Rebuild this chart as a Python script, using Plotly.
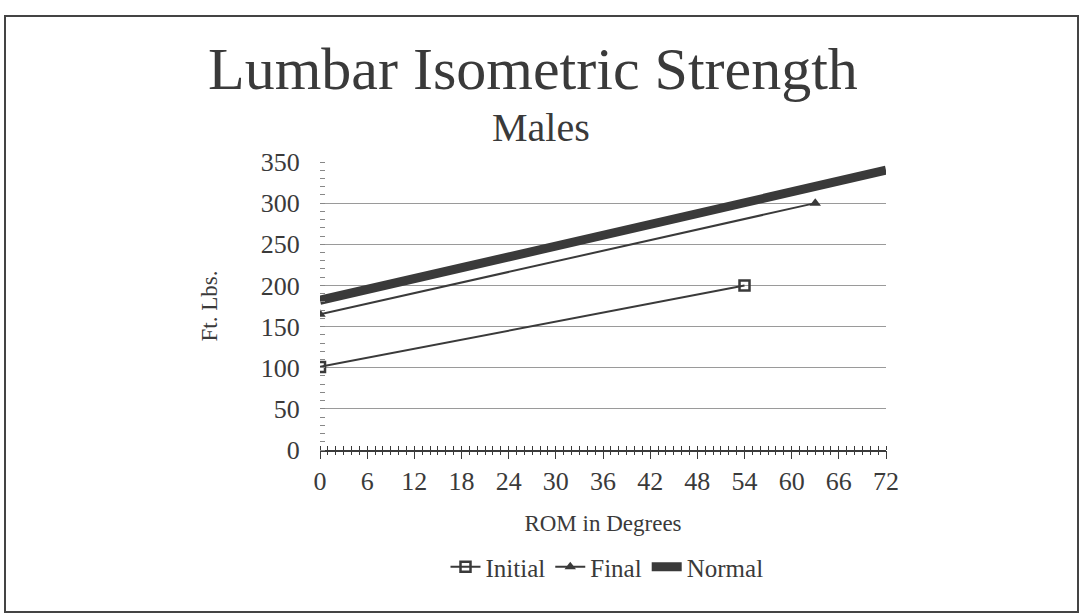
import plotly.graph_objects as go

initial_x = [0, 54]
initial_y = [101, 200]
final_x = [0, 63]
final_y = [165, 300]
normal_x = [0, 72]
normal_y = [182, 340]

x_ticks = list(range(0, 73, 6))
x_minor = list(range(0, 73, 1))
y_ticks = list(range(0, 351, 50))

C = "#3a3a3a"
FONT = "Liberation Serif"

fig = go.Figure()
fig.add_trace(go.Scatter(x=initial_x, y=initial_y, name="Initial", mode="lines+markers",
                         line=dict(color=C, width=2),
                         marker=dict(symbol="square-open", size=10, color=C, line=dict(width=2.5))))
fig.add_trace(go.Scatter(x=final_x, y=final_y, name="Final", mode="lines+markers",
                         line=dict(color=C, width=2),
                         marker=dict(symbol="triangle-up", size=10, color=C)))
fig.add_trace(go.Scatter(x=normal_x, y=normal_y, name="Normal", mode="lines",
                         line=dict(color=C, width=9)))
# invisible trace to activate the second x axis (minor crossing ticks)
fig.add_trace(go.Scatter(x=[0], y=[0], xaxis="x2", mode="markers", marker=dict(opacity=0),
                         showlegend=False, hoverinfo="skip"))

L, R, T, B = 320, 196, 162, 165
W, H = 1082, 615
pw, ph = W - L - R, H - T - B

def px(x):
    return (x - L) / pw

def py(y):
    return (H - B - y) / ph

TF = 26
fig.update_layout(
    width=W, height=H,
    margin=dict(l=L, r=R, t=T, b=B),
    paper_bgcolor="white", plot_bgcolor="white",
    font=dict(family=FONT, color=C, size=TF),
    showlegend=True,
    legend=dict(orientation="h", x=px(607), y=py(567), xanchor="center", yanchor="middle",
                font=dict(size=25, family=FONT, color=C), itemwidth=30,
                bgcolor="rgba(0,0,0,0)"),
    xaxis=dict(range=[0, 72], tickvals=x_ticks, showgrid=False, zeroline=False,
               showline=True, linecolor=C, linewidth=1.5,
               ticks="outside", ticklen=7, tickcolor=C, tickwidth=1.2,
               minor=dict(dtick=1, ticks="inside", ticklen=4, tickcolor=C),
               tickfont=dict(size=TF, family=FONT, color=C),
               title=dict(text="ROM in Degrees", font=dict(size=23, family=FONT, color=C), standoff=20)),
    xaxis2=dict(range=[0, 72], overlaying="x", anchor="y", side="bottom", tickvals=x_minor,
                showticklabels=False, showgrid=False, zeroline=False, showline=False,
                ticks="outside", ticklen=4, tickcolor=C, tickwidth=1),
    yaxis=dict(range=[0, 350], tickvals=y_ticks, showgrid=True, gridcolor="#9a9a9a", gridwidth=1,
               zeroline=False, showline=False,
               ticks="outside", ticklen=14, tickcolor="rgba(0,0,0,0)",
               minor=dict(dtick=10, ticks="inside", ticklen=5, tickcolor="#888", showgrid=False),
               tickfont=dict(size=TF, family=FONT, color=C),
               title=dict(text="Ft. Lbs.", font=dict(size=23, family=FONT, color=C), standoff=36)),
    annotations=[
        dict(text="Lumbar Isometric Strength", x=px(533), y=py(69), xref="paper", yref="paper",
             showarrow=False, font=dict(size=60, family=FONT, color=C), xanchor="center", yanchor="middle"),
        dict(text="Males", x=px(541), y=py(127), xref="paper", yref="paper",
             showarrow=False, font=dict(size=40, family=FONT, color=C), xanchor="center", yanchor="middle"),
    ],
    shapes=[dict(type="rect", xref="paper", yref="paper",
                 x0=px(5), x1=px(1078), y0=py(612), y1=py(16),
                 line=dict(color="#444", width=2))],
)

fig.write_html("out.html", config={"displayModeBar": False},
               post_script="document.body.style.margin='0px';")
